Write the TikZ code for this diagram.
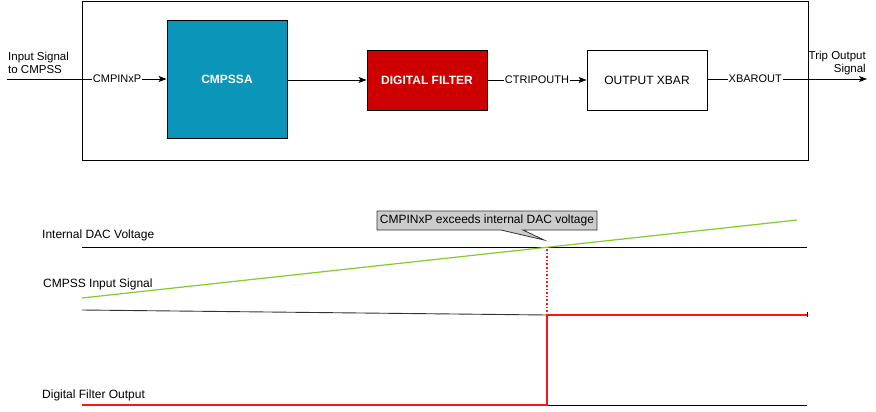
\documentclass[tikz,border=0pt]{standalone}
\usepackage{fontspec}
\setmainfont{Liberation Sans}
\usetikzlibrary{arrows.meta}
\definecolor{teal1}{RGB}{11,149,184}
\definecolor{red1}{RGB}{204,0,0}
\definecolor{sigred}{RGB}{255,20,20}
\definecolor{green1}{RGB}{128,204,40}
\definecolor{callgray}{RGB}{204,204,204}
\tikzset{
  blk/.style={draw=black, line width=0.9pt, inner sep=0pt, minimum width=120pt, font=\fontsize{12}{14}\selectfont},
  conn/.style={line width=0.8pt, -{Stealth[length=8pt,width=6pt,inset=2pt]}},
  lbl/.style={fill=white, inner sep=1pt, font=\fontsize{11}{13}\selectfont},
  txt/.style={inner sep=0pt, font=\fontsize{12}{14}\selectfont},
  sig/.style={line width=0.9pt},
  redsig/.style={line width=2pt, sigred},
}
\begin{document}
\begin{tikzpicture}[x=1pt,y=-1pt]
\useasboundingbox (0,0) rectangle (876,412);
% top block diagram
\node[draw, line width=0.9pt, inner sep=0pt, minimum width=726pt, minimum height=159pt] (outer) at (445,80.5) {};
\node[blk, fill=teal1, minimum height=118pt, text=white, font=\bfseries\fontsize{12}{14}\selectfont] (cmpssa) at (227,79) {CMPSSA};
\node[blk, fill=red1, minimum height=60pt, text=white, font=\bfseries\fontsize{12}{14}\selectfont] (df) at (427,80) {DIGITAL FILTER};
\node[blk, fill=white, minimum height=60pt] (xbar) at (647,80) {OUTPUT XBAR};
\coordinate (in) at (7,79);
\coordinate (out) at (867,79);
\draw[conn] (in) -- node[lbl, pos=0.69] (l1) {CMPINxP} (cmpssa.west |- in);
\draw[conn] (cmpssa.east |- df) -- (df);
\draw[conn] (df) -- node[lbl] (l2) {CTRIPOUTH} (xbar);
\draw[conn] (xbar.east |- out) -- node[lbl, pos=0.3] (l3) {XBAROUT} (out);
\node[txt, anchor=west, align=left, font=\fontsize{11.5}{13}\selectfont] (intxt) at (8,63) {Input Signal\\to CMPSS};
\node[txt, anchor=east, align=right, font=\fontsize{11.5}{13}\selectfont] (outtxt) at (866,63) {Trip Output\\Signal};
% timing diagram
\coordinate (dac0) at (82,247);
\coordinate (dac1) at (807,247);
\coordinate (g0) at (82,298);
\coordinate (g1) at (797,220);
\coordinate (cin0) at (82,310);
\coordinate (sw) at (547,315);
\coordinate (swb) at (547,405);
\coordinate (r0) at (82,405);
\coordinate (r1) at (807,315);
\coordinate (b1) at (807,405);
\coordinate (swt) at (547,249);
\draw[sig] (dac0) -- (dac1);
\draw[sig, green1, line width=1.2pt] (g0) -- (g1);
\draw[sig, black!80] (cin0) -- (sw);
\draw[sig] (swb) -- (b1);
\draw[line width=1pt] (807,312) -- (807,317);
\draw[redsig, line width=1.6pt, dotted] (swt) -- (sw);
\draw[redsig, line cap=butt] (r0) -- (swb) -- (sw) -- (r1);
\node[txt, anchor=west] (daclbl) at (42,235) {Internal DAC Voltage};
\node[txt, anchor=west] (cinlbl) at (43,284) {CMPSS Input Signal};
\node[txt, anchor=west] (dflbl) at (42,395) {Digital Filter Output};
% callout
\draw[fill=callgray, draw=black!80, line width=0.8pt] (377,211) -- (597,211) -- (597,230) -- (523,230) -- (544,240) -- (501,230) -- (377,230) -- cycle;
\node[txt] (callout) at (487,220.5) {CMPINxP exceeds internal DAC voltage};
\end{tikzpicture}
\end{document}
